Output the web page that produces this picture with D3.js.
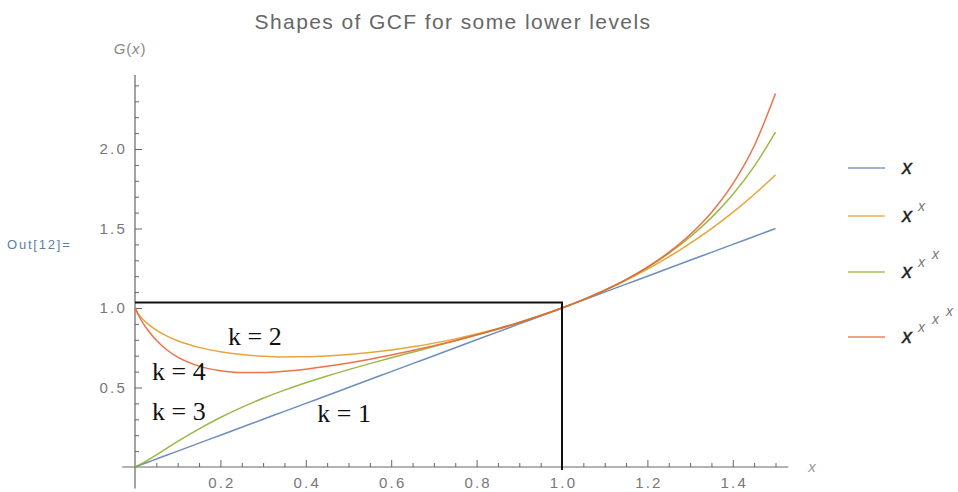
<!DOCTYPE html>
<html>
<head>
<meta charset="utf-8">
<script src="https://cdn.jsdelivr.net/npm/d3@7/dist/d3.min.js"></script>
<style>
  body { margin: 0; background: #fff; }
  svg { display: block; }
</style>
</head>
<body>
<svg id="chart" width="958" height="492"></svg>
<script>
// Sample positions along x
const xs = [0, 0.01, 0.02, 0.03, 0.05, 0.075, 0.1, 0.15, 0.2, 0.25, 0.3, 0.35, 0.4, 0.45, 0.5,
  0.55, 0.6, 0.65, 0.7, 0.75, 0.8, 0.85, 0.9, 0.95, 1.0, 1.05, 1.1, 1.15, 1.2, 1.25, 1.3,
  1.35, 1.4, 1.45, 1.5];

// G(x) for towers of height k = 1..4
const k1 = [0, 0.01, 0.02, 0.03, 0.05, 0.075, 0.1, 0.15, 0.2, 0.25, 0.3, 0.35, 0.4, 0.45, 0.5,
  0.55, 0.6, 0.65, 0.7, 0.75, 0.8, 0.85, 0.9, 0.95, 1.0, 1.05, 1.1, 1.15, 1.2, 1.25, 1.3,
  1.35, 1.4, 1.45, 1.5];
const k2 = [1, 0.9550, 0.9247, 0.9001, 0.8609, 0.8234, 0.7943, 0.7523, 0.7248, 0.7071, 0.6968,
  0.6925, 0.6931, 0.6981, 0.7071, 0.7198, 0.7360, 0.7558, 0.7791, 0.8059, 0.8365, 0.8710,
  0.9095, 0.9524, 1, 1.0526, 1.1105, 1.1744, 1.2446, 1.3217, 1.4064, 1.4995, 1.6017, 1.7139, 1.8371];
const k3 = [0, 0.0123, 0.0268, 0.0426, 0.0759, 0.1185, 0.1606, 0.2400, 0.3115, 0.3752, 0.4322,
  0.4834, 0.5299, 0.5727, 0.6126, 0.6503, 0.6866, 0.7221, 0.7574, 0.7931, 0.8297, 0.8680,
  0.9086, 0.9523, 1, 1.0527, 1.1117, 1.1784, 1.2547, 1.3430, 1.4463, 1.5683, 1.7142, 1.8904, 2.1062];
const k4 = [1, 0.9449, 0.9003, 0.8613, 0.7967, 0.7357, 0.6909, 0.6343, 0.6058, 0.5944, 0.5943,
  0.6020, 0.6154, 0.6330, 0.6540, 0.6779, 0.7042, 0.7327, 0.7633, 0.7960, 0.8310, 0.8684,
  0.9087, 0.9523, 1, 1.0527, 1.1118, 1.1790, 1.2570, 1.3494, 1.4615, 1.6010, 1.7803, 2.0186, 2.3490];

const seriesNames = ["k1", "k2", "k3", "k4"];
const seriesColors = ["#5E81B5", "#E19C24", "#8FB032", "#EB6235"];

// Axis ticks
const xMajor = [0.2, 0.4, 0.6, 0.8, 1.0, 1.2, 1.4];
const xTickLabels = ["0.2", "0.4", "0.6", "0.8", "1.0", "1.2", "1.4"];
const yMajor = [0.5, 1.0, 1.5, 2.0];
const yTickLabels = ["0.5", "1.0", "1.5", "2.0"];

// Box outlining the region 0 <= x <= 1
const boxX = [0, 1];
const boxTop = 1.035;

// Curve annotations: [text, x, y]
const annotations = [
  ["k = 2", 0.218, 0.765],
  ["k = 4", 0.04, 0.545],
  ["k = 3", 0.04, 0.295],
  ["k = 1", 0.427, 0.283]
];

const svg = d3.select("#chart");
const x = d3.scaleLinear().domain([0, 1.5]).range([135, 775.5]);
const y = d3.scaleLinear().domain([0, 1]).range([467, 308]);

const axisColor = "#666";
const labelColor = "#777";
const sans = "'Liberation Sans', Arial, sans-serif";

// Title
svg.append("text")
  .attr("x", 453).attr("y", 29)
  .attr("text-anchor", "middle")
  .attr("font-family", sans)
  .attr("font-size", 21)
  .attr("letter-spacing", 1.4)
  .attr("fill", "#666")
  .text("Shapes of GCF for some lower levels");

// Cell output label
svg.append("text")
  .attr("x", 7).attr("y", 249)
  .attr("font-family", sans)
  .attr("font-size", 13)
  .attr("letter-spacing", 1.8)
  .attr("fill", "#5B7FA8")
  .text("Out[12]=");

// Axis lines, extending a little past the origin
svg.append("line")
  .attr("x1", x(-0.03)).attr("x2", x(1.53))
  .attr("y1", y(0)).attr("y2", y(0))
  .attr("stroke", axisColor).attr("stroke-width", 1.2);
svg.append("line")
  .attr("x1", x(0)).attr("x2", x(0))
  .attr("y1", y(-0.135)).attr("y2", y(2.465))
  .attr("stroke", axisColor).attr("stroke-width", 1.2);

// X ticks (inward), major + minor
const xMinor = d3.range(0.05, 1.51, 0.05).filter(v => !xMajor.some(m => Math.abs(m - v) < 1e-6));
const xAxisMajor = d3.axisBottom(x).tickValues(xMajor).tickSizeInner(-7).tickSizeOuter(0).tickPadding(8)
  .tickFormat((d, i) => xTickLabels[i]);
const xAxisMinor = d3.axisBottom(x).tickValues(xMinor).tickSizeInner(-4).tickSizeOuter(0).tickFormat("");
const gxMinor = svg.append("g").attr("transform", `translate(0,${y(0)})`).call(xAxisMinor);
const gx = svg.append("g").attr("transform", `translate(0,${y(0)})`).call(xAxisMajor);
[gx, gxMinor].forEach(g => {
  g.select(".domain").remove();
  g.selectAll("line").attr("stroke", axisColor);
});
gx.selectAll("text").attr("font-family", sans).attr("font-size", 15).attr("letter-spacing", 2.2)
  .attr("fill", labelColor).attr("dy", "0.71em").attr("y", 10).attr("dx", 1);

// Y ticks (inward), major + minor
const yMinor = d3.range(0.1, 2.41, 0.1).filter(v => !yMajor.some(m => Math.abs(m - v) < 1e-6));
const yAxisMajor = d3.axisLeft(y).tickValues(yMajor).tickSizeInner(-7).tickSizeOuter(0).tickPadding(8)
  .tickFormat((d, i) => yTickLabels[i]);
const yAxisMinor = d3.axisLeft(y).tickValues(yMinor).tickSizeInner(-4).tickSizeOuter(0).tickFormat("");
const gyMinor = svg.append("g").attr("transform", `translate(${x(0)},0)`).call(yAxisMinor);
const gy = svg.append("g").attr("transform", `translate(${x(0)},0)`).call(yAxisMajor);
[gy, gyMinor].forEach(g => {
  g.select(".domain").remove();
  g.selectAll("line").attr("stroke", axisColor);
});
gy.selectAll("text").attr("font-family", sans).attr("font-size", 15).attr("letter-spacing", 2.2)
  .attr("fill", labelColor);

// Axis labels
const gLabel = svg.append("text")
  .attr("x", 130).attr("y", 54)
  .attr("text-anchor", "middle")
  .attr("font-family", sans).attr("font-size", 15).attr("letter-spacing", 0.8).attr("fill", "#888");
gLabel.append("tspan").attr("font-style", "italic").text("G");
gLabel.append("tspan").text("(");
gLabel.append("tspan").attr("font-style", "italic").text("x");
gLabel.append("tspan").text(")");

svg.append("text")
  .attr("x", 812).attr("y", 472)
  .attr("text-anchor", "middle")
  .attr("font-family", sans).attr("font-size", 15)
  .attr("font-style", "italic").attr("fill", "#999")
  .text("x");

// Curves
const lineGen = d3.line()
  .x((d, i) => x(xs[i]))
  .y(d => y(d))
  .curve(d3.curveMonotoneX);
const allSeries = [k1, k2, k3, k4];
svg.append("g")
  .selectAll("path")
  .data(allSeries)
  .join("path")
  .attr("d", d => lineGen(d))
  .attr("fill", "none")
  .attr("stroke", (d, i) => seriesColors[i])
  .attr("stroke-width", 1.5)
  .attr("stroke-opacity", 0.9);

// Box around 0 <= x <= 1
svg.append("path")
  .attr("d", `M${x(boxX[0])},${y(boxTop)}H${x(boxX[1])}V${y(0) + 3}`)
  .attr("fill", "none")
  .attr("stroke", "#111")
  .attr("stroke-width", 2);

// Annotations
svg.append("g")
  .selectAll("text")
  .data(annotations)
  .join("text")
  .attr("x", d => x(d[1]))
  .attr("y", d => y(d[2]))
  .attr("font-family", "'Liberation Serif', 'Times New Roman', serif")
  .attr("font-size", 26)
  .attr("fill", "#111")
  .text(d => d[0]);

// Legend
const legendY = [168, 216, 272, 337];
const legend = svg.append("g");
legendY.forEach((ly, i) => {
  legend.append("line")
    .attr("x1", 848).attr("x2", 885)
    .attr("y1", ly).attr("y2", ly)
    .attr("stroke", seriesColors[i])
    .attr("stroke-width", 2.2)
    .attr("stroke-opacity", 0.6);
  // Base x, then stacked exponents
  legend.append("text")
    .attr("x", 902).attr("y", ly + 6)
    .attr("font-family", sans).attr("font-size", 20)
    .attr("font-style", "italic")
    .attr("fill", "#222")
    .attr("stroke", "#222").attr("stroke-width", 0.4)
    .text("x");
  for (let j = 1; j <= i; j++) {
    legend.append("text")
      .attr("x", 902 + 16 + (j - 1) * 14).attr("y", ly - 5 - (j - 1) * 8)
      .attr("font-family", sans).attr("font-size", 14)
      .attr("font-style", "italic")
      .attr("fill", "#777")
      .text("x");
  }
});
</script>
</body>
</html>
